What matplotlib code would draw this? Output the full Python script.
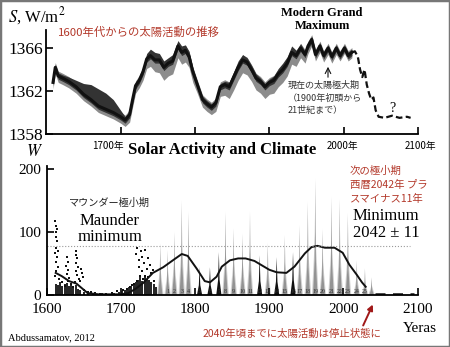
import numpy as np
import matplotlib
matplotlib.use("Agg")
import matplotlib.pyplot as plt
from matplotlib.patches import Rectangle

plt.rcParams['mathtext.fontset'] = 'stix'
SERIF = 'Liberation Serif'
JP = ['Noto Sans CJK JP', 'DejaVu Sans']
RED = '#b3382a'

# ---- top panel: total solar irradiance reconstruction ----
tsi_years = [1609, 1612, 1616, 1622, 1630, 1640, 1650, 1660, 1670, 1680, 1690, 1700,
             1706, 1712, 1716, 1720, 1725, 1730, 1735, 1740, 1746, 1752, 1758, 1764,
             1770, 1777, 1782, 1787, 1792, 1797, 1803, 1810, 1816, 1822, 1828, 1834,
             1840, 1846, 1852, 1858, 1864, 1870, 1876, 1882, 1888, 1894, 1900, 1906,
             1912, 1918, 1924, 1930, 1936, 1942, 1948, 1952, 1957, 1962, 1968, 1973,
             1979, 1984, 1990, 1995, 2001, 2006, 2011]
tsi_mid = [1362.8, 1364.2, 1363.4, 1363.2, 1362.9, 1362.4, 1361.7, 1361.2, 1360.6, 1360.3,
           1360.0, 1359.6, 1359.3, 1359.8, 1361.2, 1362.5, 1363.0, 1363.8, 1365.0, 1365.3,
           1364.9, 1364.9, 1364.2, 1364.6, 1364.8, 1366.2, 1365.6, 1365.8, 1365.2, 1363.8,
           1362.6, 1361.2, 1360.8, 1360.5, 1360.9, 1362.4, 1362.6, 1362.4, 1363.3, 1364.2,
           1364.9, 1364.7, 1364.0, 1363.2, 1362.9, 1362.4, 1362.8, 1363.0, 1363.6, 1364.0,
           1364.6, 1365.6, 1365.3, 1366.0, 1365.4, 1366.2, 1366.8, 1365.4, 1366.2, 1365.3,
           1366.0, 1365.2, 1366.0, 1365.3, 1366.0, 1365.3, 1365.6]
# spread of the dark band above the line
tsi_dark_up = [0.3, 0.3, 0.3, 0.3, 0.4, 0.6, 1.0, 1.4, 1.6, 1.5, 1.2, 0.6,
               0.3, 0.3, 0.3, 0.3, 0.3, 0.4, 0.5, 0.6, 0.7, 0.6, 0.6, 0.5,
               0.6, 0.5, 0.6, 0.5, 0.5, 0.4, 0.3, 0.3, 0.3, 0.3, 0.3, 0.3,
               0.3, 0.4, 0.5, 0.6, 0.5, 0.4, 0.4, 0.4, 0.3, 0.3, 0.3, 0.4,
               0.5, 0.6, 0.6, 0.6, 0.5, 0.4, 0.3, 0.3, 0.3, 0.3, 0.3, 0.3,
               0.3, 0.3, 0.3, 0.3, 0.3, 0.3, 0.3]
# spread of the light band below the line
tsi_light_dn = [0.4, 0.4, 0.4, 0.4, 0.4, 0.4, 0.4, 0.4, 0.4, 0.4, 0.4, 0.4,
                0.4, 0.5, 0.5, 0.5, 0.5, 0.6, 0.7, 0.8, 0.9, 1.0, 1.0, 1.0,
                1.0, 0.9, 0.9, 0.9, 0.8, 0.8, 0.6, 0.5, 0.5, 0.5, 0.6, 0.7,
                0.8, 0.9, 1.0, 1.0, 1.0, 1.0, 0.9, 0.9, 0.9, 0.9, 0.9, 1.0,
                1.0, 1.0, 1.0, 0.9, 0.8, 0.7, 0.6, 0.5, 0.4, 0.4, 0.4, 0.4,
                0.4, 0.4, 0.4, 0.3, 0.3, 0.3, 0.3]
fut_years = [2011, 2015, 2019, 2022, 2025, 2028, 2031, 2034, 2037, 2040, 2043, 2047,
             2055, 2065, 2075, 2085, 2090]
fut_tsi = [1365.6, 1365.7, 1365.2, 1364.0, 1363.3, 1364.0, 1362.6, 1361.8, 1361.2,
           1361.4, 1360.2, 1359.6, 1359.5, 1359.7, 1359.5, 1359.6, 1359.5]

# ---- bottom panel: sunspot activity ----
grey_peak_year = [1753, 1763, 1772, 1782, 1791, 1841, 1852, 1864, 1874, 1898, 1921,
                  1941, 1952, 1962, 1972, 1984, 1995, 2006, 2018, 2029, 2038]
grey_peak_val = [82, 71, 100, 150, 132, 132, 106, 97, 132, 83, 95,
                 111, 148, 185, 105, 156, 152, 130, 55, 42, 28]
black_peak_year = [1806, 1820, 1832, 1887, 1910, 1932]
black_peak_val = [44, 44, 68, 63, 60, 68]
cycle_year = [1763, 1772, 1782, 1791, 1806, 1820, 1832, 1841, 1852, 1864, 1874, 1887,
              1898, 1910, 1921, 1932, 1941, 1952, 1962, 1972, 1984, 1995, 2006, 2018, 2029]

mean_years = [1612, 1620, 1630, 1640, 1648, 1655, 1670, 1700, 1710, 1720, 1730, 1743,
              1757, 1770, 1782, 1790, 1802, 1813, 1820, 1829, 1836, 1847, 1858, 1868,
              1880, 1890, 1900, 1910, 1923, 1934, 1948, 1957, 1965, 1975, 1988, 1999,
              2008, 2018, 2025, 2030]
mean_vals = [35, 30, 22, 18, 10, 3, 1, 1, 3, 10, 19, 35, 44, 55, 65, 62, 42, 22, 20, 29,
             45, 55, 58, 58, 54, 47, 40, 36, 35, 45, 66, 76, 78, 75, 75, 67, 48, 32, 20, 13]

dot_years = [1611, 1612, 1613, 1612, 1614, 1613, 1611, 1614, 1612, 1615, 1613, 1611, 1616,
             1614, 1615, 1627, 1628, 1626, 1629, 1627, 1630, 1628, 1639, 1640, 1641, 1639,
             1642, 1640, 1641, 1643, 1638, 1646, 1647, 1649, 1645, 1620, 1624, 1633, 1636,
             1650, 1655, 1660, 1665, 1672, 1680, 1688, 1695, 1720, 1722, 1725, 1727, 1724,
             1729, 1731, 1733, 1735, 1737, 1739, 1741, 1743, 1726, 1730, 1736, 1722, 1718,
             1745, 1712, 1715, 1708, 1703, 1733, 1728]
dot_vals = [118, 110, 100, 92, 85, 75, 66, 60, 52, 45, 38, 30, 25, 105, 70, 60, 52, 46, 40,
            33, 27, 22, 70, 64, 58, 50, 44, 38, 32, 26, 20, 42, 35, 28, 22, 20, 15, 18, 12,
            8, 5, 4, 3, 2, 2, 3, 6, 65, 75, 55, 70, 45, 60, 50, 72, 42, 58, 48, 35, 40, 30,
            25, 28, 22, 18, 22, 12, 16, 10, 8, 30, 38]
low_years = [1612, 1615, 1618, 1621, 1624, 1627, 1630, 1633, 1636, 1639, 1642, 1645, 1650,
             1656, 1662, 1668, 1675, 1682, 1690, 1697, 1702, 1705, 1708, 1711, 1714, 1717,
             1720, 1723, 1726, 1729, 1732, 1735, 1738, 1741, 1744, 1747]
low_vals = [18, 16, 20, 15, 17, 19, 14, 18, 12, 16, 10, 8, 4, 3, 3, 2, 3, 2, 3, 4, 6, 8,
            10, 12, 14, 16, 20, 24, 28, 22, 30, 26, 24, 20, 18, 12]

fig = plt.figure(figsize=(4.5, 3.47), dpi=100)
W, H = 450.0, 347.0


def P(px, py):
    return px / W, 1 - py / H


# ---------- top axes ----------
ax1 = fig.add_axes([0.103, 0.614, 0.826, 0.300])
ty = np.array(tsi_years)
tm = np.array(tsi_mid)
ax1.fill_between(ty, tm - np.array(tsi_light_dn) - 0.2, tm + 0.45, color='#8c8c8c', lw=0)
ax1.fill_between(ty, tm - 0.3, tm + np.array(tsi_dark_up), color='#333333', lw=0)
ax1.plot(ty, tm, color='#111111', lw=2.2, solid_joinstyle='round')
ax1.plot(fut_years, fut_tsi, color='#111111', lw=1.6, ls=(0, (3, 1.5)))
ax1.set_xlim(1600, 2100)
ax1.set_ylim(1358, 1367.7)
ax1.set_yticks([1358, 1362, 1366])
ax1.set_yticklabels(['1358', '1362', '1366'], fontfamily=SERIF, fontsize=12.5)
ax1.set_xticks([1700, 1800, 1900, 2000, 2100])
ax1.set_xticklabels([])
for s in ['top', 'right']:
    ax1.spines[s].set_visible(False)
for s in ['left', 'bottom']:
    ax1.spines[s].set_linewidth(1.3)
ax1.tick_params(direction='in', length=5, width=1.2, pad=2)

# ---------- bottom axes ----------
ax2 = fig.add_axes([0.104, 0.150, 0.824, 0.372])
for t, h in zip(grey_peak_year, grey_peak_val):
    ax2.fill([t - 4.5, t, t + 4.5], [0, h * 0.55, 0], color='#d2d2d2', lw=0)
    ax2.fill([t - 3, t - 0.8, t, t + 0.8, t + 3], [0, h * 0.3, h, h * 0.3, 0],
             color='#939393', lw=0)
for t, h in zip(black_peak_year, black_peak_val):
    ax2.fill([t - 3.5, t - 1, t, t + 1, t + 3.5], [0, h * 0.35, h, h * 0.35, 0],
             color='#111111', lw=0)
ax2.vlines(low_years, 0, low_vals, color='#111111', lw=1.3)
ax2.scatter(dot_years, dot_vals, s=3, marker='s', color='#111111', lw=0)
ax2.plot(mean_years, mean_vals, color='#111111', lw=1.4)
ax2.plot([2042, 2095], [2, 2], color='#111111', lw=1.8, ls=(0, (4, 3)))
ax2.axhline(78, xmin=0, xmax=0.98, color='#9a9a9a', lw=0.8, ls=':')
for i, t in enumerate(cycle_year):
    ax2.text(t, 6, str(i + 1), fontsize=4.3, ha='center', va='center',
             fontfamily=SERIF, color='#333333')
ax2.set_xlim(1600, 2100)
ax2.set_ylim(0, 205)
ax2.set_yticks([0, 100, 200])
ax2.set_yticklabels(['0', '100', '200'], fontfamily=SERIF, fontsize=11)
ax2.set_xticks([1600, 1700, 1800, 1900, 2000, 2100])
ax2.set_xticklabels(['1600', '1700', '1800', '1900', '2000', '2100'],
                    fontfamily=SERIF, fontsize=11)
for s in ['top', 'right']:
    ax2.spines[s].set_visible(False)
for s in ['left', 'bottom']:
    ax2.spines[s].set_linewidth(1.3)
ax2.tick_params(direction='in', length=5, width=1.2, pad=4)
ax2.tick_params(axis='x', pad=6)

# ---------- texts ----------
fig.text(*P(8, 16), r'$S$, W/m$^2$', fontfamily=SERIF, fontsize=12, va='center')
fig.text(*P(58, 32.5), '1600年代からの太陽活動の推移', family=JP, fontsize=8.2,
         color=RED, va='center')
fig.text(*P(322, 19.5), 'Modern Grand\nMaximum', fontfamily=SERIF, fontsize=9,
         fontweight='bold', ha='center', va='center', linespacing=1.05)
fig.text(*P(288, 81), '現在の太陽極大期\n（1900年初頭から\n21世紀まで）', family=JP,
         fontsize=6.5, color='#333333', va='top', linespacing=1.45)
ax1.annotate('', xy=P(328, 64), xycoords='figure fraction', xytext=P(328, 80),
             textcoords='figure fraction',
             arrowprops=dict(arrowstyle='->', color='#111111', lw=0.8))
fig.text(*P(392, 108), '?', fontfamily=SERIF, fontsize=10, ha='center', va='center')
fig.text(*P(108, 146), '1700年', family=JP, fontsize=7, ha='center', va='center')
fig.text(*P(342, 146), '2000年', family=JP, fontsize=7, ha='center', va='center')
fig.text(*P(420, 146), '2100年', family=JP, fontsize=7, ha='center', va='center')
fig.text(*P(222, 150), 'Solar Activity and Climate', fontfamily=SERIF, fontsize=12,
         fontweight='bold', ha='center', va='center')
fig.text(*P(35, 152), r'$W$', fontfamily=SERIF, fontsize=12, ha='center', va='center')
fig.text(*P(109, 203), 'マウンダー極小期', family=JP, fontsize=7.3, color='#222222',
         ha='center', va='center')
fig.text(*P(110, 229), 'Maunder\nminimum', fontfamily=SERIF, fontsize=12,
         ha='center', va='center', linespacing=0.95)
fig.text(*P(350, 166), '次の極小期\n西暦2042年 プラ\nスマイナス11年', family=JP,
         fontsize=7.5, color=RED, va='top', linespacing=1.5)
fig.text(*P(353, 208), 'Minimum\n2042 ± 11', fontfamily=SERIF, fontsize=12,
         va='top', linespacing=1.05)
fig.text(*P(8, 338), 'Abdussamatov, 2012', fontfamily=SERIF, fontsize=7.5, va='center')
fig.text(*P(203, 334), '2040年頃までに太陽活動は停止状態に', family=JP, fontsize=7.5,
         color=RED, va='center')
fig.text(*P(420, 329), 'Yeras', fontfamily=SERIF, fontsize=11, ha='center', va='center')
ax2.annotate('', xy=P(374, 302), xycoords='figure fraction', xytext=P(362, 328),
             textcoords='figure fraction',
             arrowprops=dict(arrowstyle='-|>', color='#a01818', lw=1.4,
                             mutation_scale=8))

fig.patches.append(Rectangle((0, 0), 1, 1, transform=fig.transFigure, fill=False,
                             edgecolor='#777777', lw=2.5))
fig.savefig('out.png', dpi=100)
